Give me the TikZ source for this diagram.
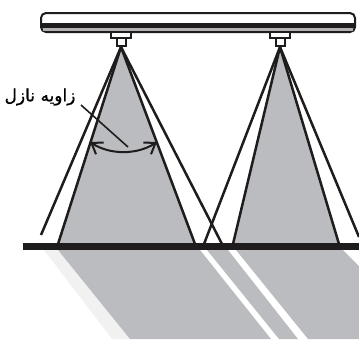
\documentclass[tikz,border=0pt]{standalone}
\usepackage{fontspec}
\newfontfamily\arabicfont[Script=Arabic,FakeBold=0.8]{DejaVu Sans}
\TeXXeTstate=1
\usetikzlibrary{arrows.meta, positioning}
\definecolor{spraygray}{HTML}{BBBCBF}
\definecolor{fadegray}{HTML}{F1F1F2}
\definecolor{inkblack}{HTML}{1E1C1D}

\begin{document}
\begin{tikzpicture}[
  x=0.5pt, y=-0.5pt,
  >={Straight Barb[length=5pt,width=7pt]},
  edge/.style={draw=inkblack, line width=1.25pt},
  part/.style={draw=inkblack, line width=0.8pt, fill=white}
]
  \useasboundingbox (0,0) rectangle (359,339);
  \coordinate (apex1) at (121,47);
  \coordinate (apex2) at (280,47);
  % spray on the floor
  \fill[fadegray] (44,250) -- (58,250) -- (130,339) -- (112,339) -- cycle;
  \fill[spraygray] (58,250) -- (200,250) -- (271,339) -- (130,339) -- cycle;
  \fill[spraygray] (207,250) -- (228,250) -- (298,339) -- (279,339) -- cycle;
  \fill[spraygray] (236,250) -- (343,250) -- (359,266) -- (359,339) -- (308,339) -- cycle;
  % cones
  \fill[spraygray] (apex1) -- (58,244) -- (195,244) -- cycle;
  \fill[spraygray] (apex2) -- (233,244) -- (339,244) -- cycle;
  \draw[edge] (41,235) -- (apex1) -- (222,244);
  \draw[edge] (58,244) -- (apex1) -- (195,244);
  \draw[edge] (204,244) -- (apex2) -- (359,237);
  \draw[edge] (233,244) -- (apex2) -- (339,244);
  % floor
  \fill[inkblack] (23,243) rectangle (359,250);
  % pipe
  \draw[part, line width=1pt, rounded corners=2.5pt] (41,13) rectangle (355,32);
  \fill[inkblack] (42,23) rectangle (354,28);
  \fill[gray!60] (43,28) rectangle (353,31);
  % nozzles
  \draw[part] (111,32) rectangle (131,38);
  \draw[part] (117,38) rectangle (126,46);
  \draw[part] (270,32) rectangle (290,38);
  \draw[part] (276,38) rectangle (285,46);
  % angle
  \node[font=\fontsize{8.5}{10}\selectfont, inner sep=0pt] (label) at (40,97) {\arabicfont\beginR زاویه نازل\endR};
  \coordinate (leaderend) at (128,147);
  \coordinate (arcleft) at (90,142);
  \coordinate (arcright) at (157,142);
  \draw[edge, line width=0.8pt] (81,105) -- (leaderend);
  \draw[edge, <->, line width=1pt] (arcleft) .. controls (110,155) and (137,155) .. (arcright);
\end{tikzpicture}
\end{document}
